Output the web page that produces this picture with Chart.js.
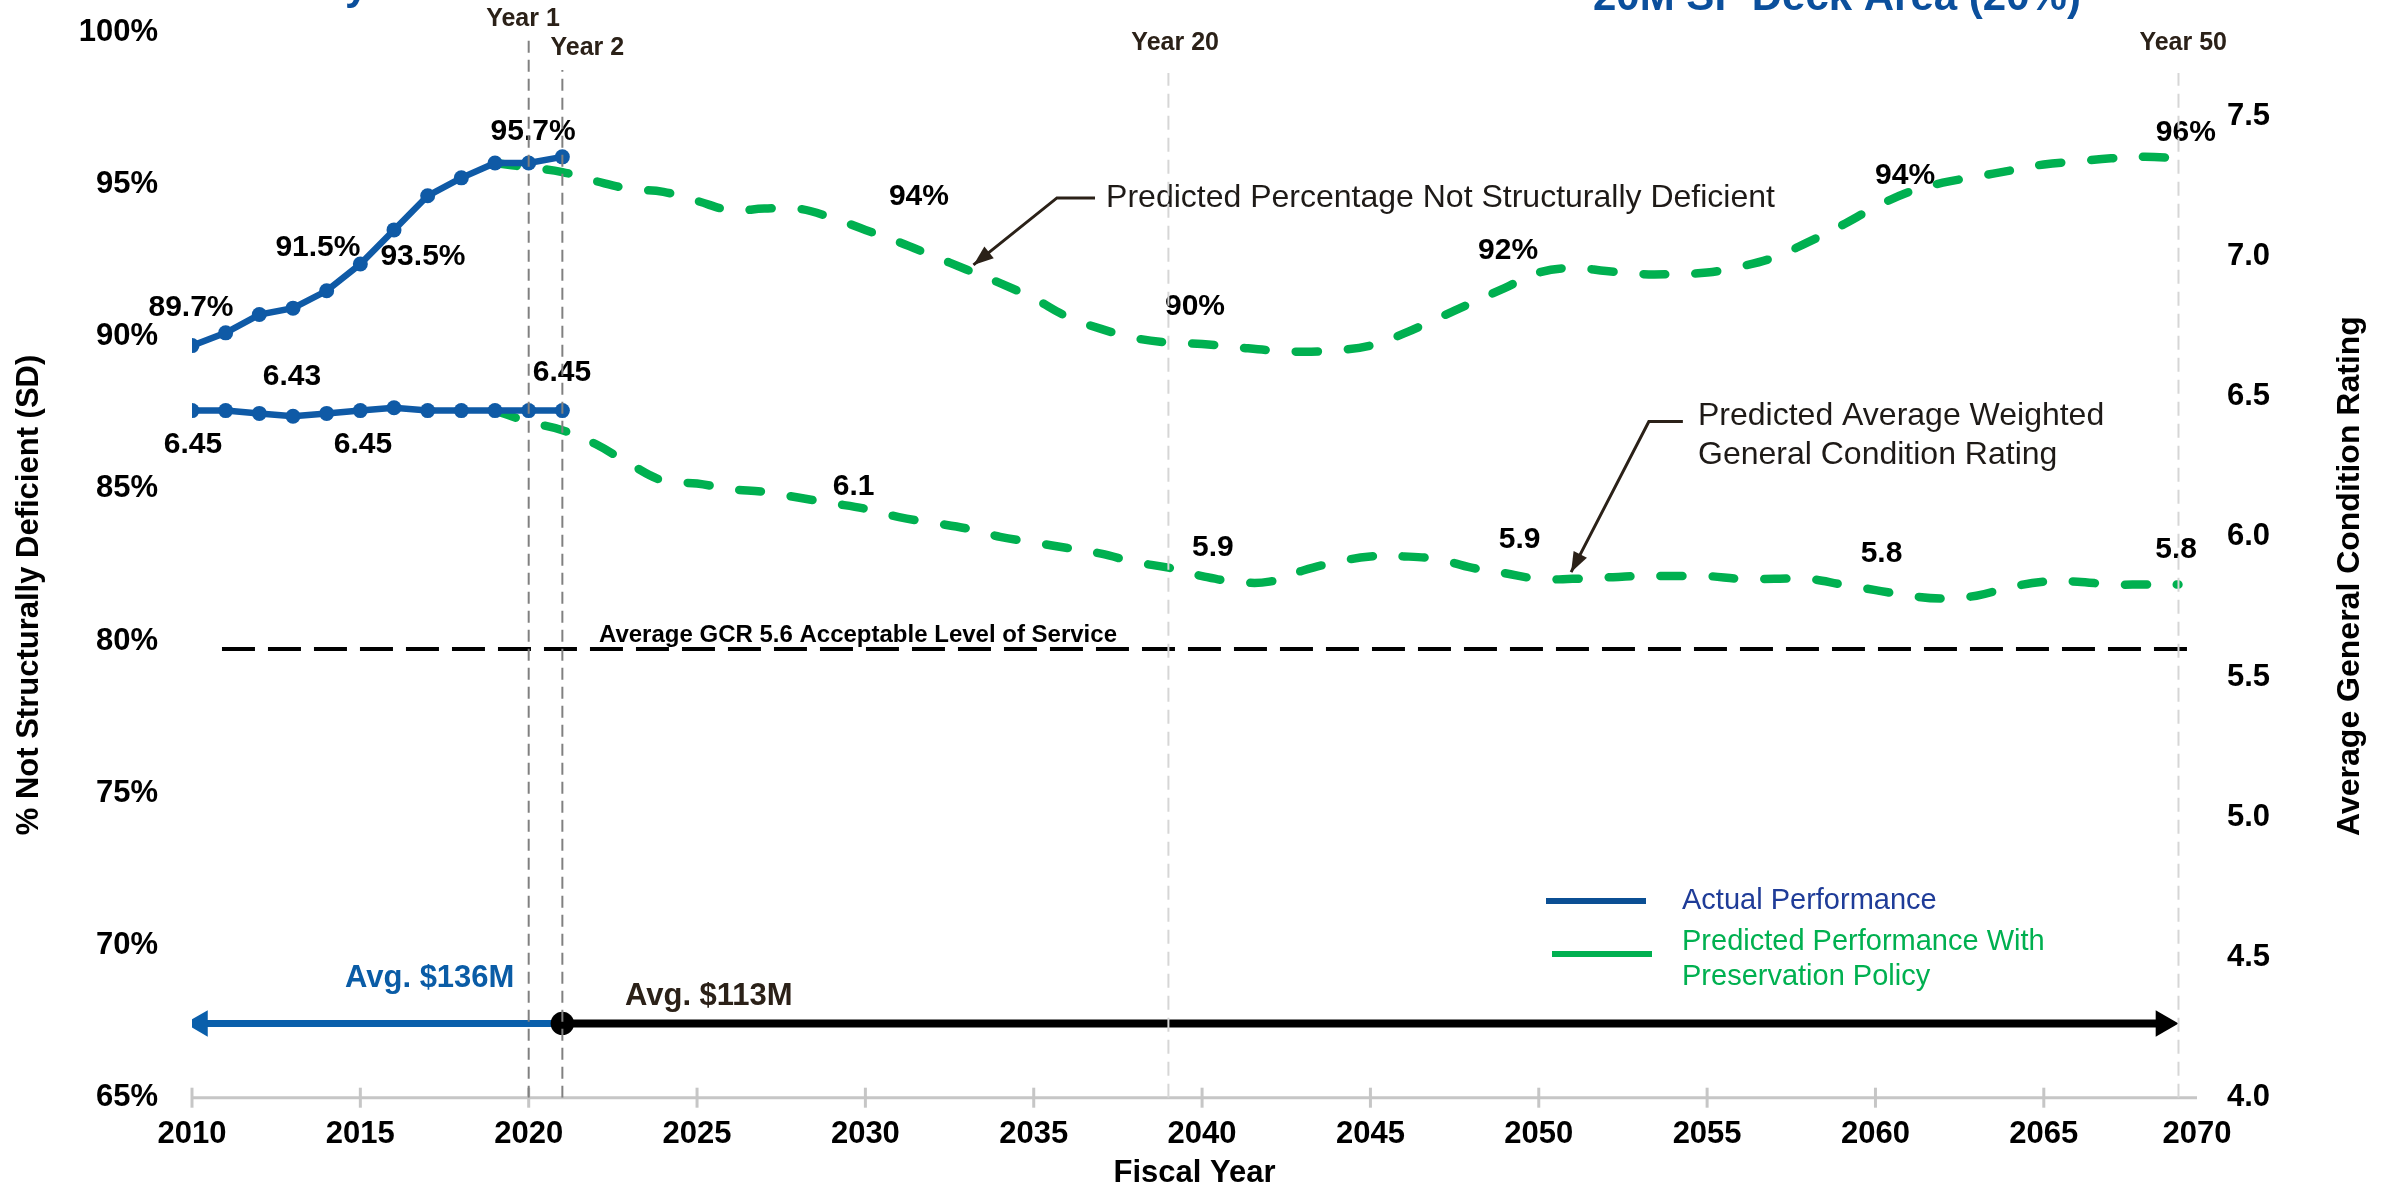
<!DOCTYPE html>
<html>
<head>
<meta charset="utf-8">
<script src="https://cdn.jsdelivr.net/npm/chart.js@4.4.1/dist/chart.umd.min.js"></script>
<style>
  html, body { margin: 0; padding: 0; background: #fff; }
  #wrap { width: 2392px; height: 1192px; position: relative; }
</style>
</head>
<body>
<div id="wrap"><canvas id="chart"></canvas></div>
<script>
const FONT = "'Liberation Sans', Arial, Helvetica, sans-serif";

// Actual performance (fiscal years 2010-2021)
const actualYears = [2010, 2011, 2012, 2013, 2014, 2015, 2016, 2017, 2018, 2019, 2020, 2021];
const actualPct = [89.7, 90.12, 90.72, 90.93, 91.5, 92.38, 93.5, 94.62, 95.21, 95.7, 95.7, 95.9];
const actualGcr = [6.45, 6.45, 6.44, 6.43, 6.44, 6.45, 6.46, 6.45, 6.45, 6.45, 6.45, 6.45];

// Predicted performance with preservation policy (2019-2069)
const predYears = [2019, 2020, 2021, 2022, 2023, 2024, 2025, 2026, 2027, 2028,
  2029, 2030, 2031, 2032, 2033, 2034, 2035, 2036, 2037, 2038,
  2039, 2040, 2041, 2042, 2043, 2044, 2045, 2046, 2047, 2048,
  2049, 2050, 2051, 2052, 2053, 2054, 2055, 2056, 2057, 2058,
  2059, 2060, 2061, 2062, 2063, 2064, 2065, 2066, 2067, 2068, 2069];
const predPct = [95.7, 95.55, 95.4, 95.1, 94.85, 94.75, 94.45, 94.15, 94.2, 94.2,
  93.9, 93.5, 93.1, 92.65, 92.2, 91.75, 91.25, 90.65, 90.25, 89.95,
  89.8, 89.75, 89.65, 89.55, 89.5, 89.55, 89.7, 90.1, 90.6, 91.1,
  91.6, 92.1, 92.25, 92.15, 92.05, 92.05, 92.1, 92.3, 92.6, 93.1,
  93.65, 94.25, 94.75, 95.05, 95.25, 95.45, 95.65, 95.75, 95.85, 95.9, 95.85];
const predGcr = [6.45, 6.41, 6.38, 6.33, 6.26, 6.2, 6.19, 6.17, 6.16, 6.14,
  6.12, 6.1, 6.07, 6.05, 6.03, 6.0, 5.98, 5.96, 5.94, 5.91,
  5.89, 5.86, 5.84, 5.84, 5.88, 5.91, 5.93, 5.93, 5.92, 5.89,
  5.87, 5.85, 5.85, 5.855, 5.86, 5.86, 5.86, 5.85, 5.85, 5.85,
  5.83, 5.81, 5.79, 5.78, 5.79, 5.82, 5.84, 5.84, 5.83, 5.83, 5.83];

// Axes
const xTicks = [2010, 2015, 2020, 2025, 2030, 2035, 2040, 2045, 2050, 2055, 2060, 2065];
const xEnd = 2069.55;
const pctTicks = [65, 70, 75, 80, 85, 90, 95, 100];
const gcrTicks = [4.0, 4.5, 5.0, 5.5, 6.0, 6.5, 7.0, 7.5];

// Reference level and milestones
const acceptableGcr = 5.6;
const milestoneYears = [2020, 2021, 2039, 2069];
const milestoneNames = ['Year 1', 'Year 2', 'Year 20', 'Year 50'];

// Funding averages
const pastFunding = 'Avg. $136M';
const futureFunding = 'Avg. $113M';

// Where the value labels sit (year, axis value)
const pctLabels = [
  [2009.97, 90.94, '89.7%'], [2013.74, 92.91, '91.5%'], [2016.86, 92.61, '93.5%'],
  [2020.13, 96.73, '95.7%'], [2031.59, 94.58, '94%'], [2039.79, 90.98, '90%'],
  [2049.09, 92.82, '92%'], [2060.88, 95.27, '94%'], [2069.22, 96.69, '96%']
];
const gcrLabels = [
  [2012.97, 6.57, '6.43'], [2010.03, 6.33, '6.45'], [2015.08, 6.33, '6.45'],
  [2020.99, 6.585, '6.45'], [2029.65, 6.18, '6.1'], [2040.32, 5.96, '5.9'],
  [2049.43, 5.99, '5.9'], [2060.18, 5.94, '5.8'], [2068.93, 5.955, '5.8']
];
const milestoneNameAt = [[2019.83, 100.43], [2021.74, 99.47], [2039.2, 99.64], [2069.14, 99.64]];
const milestoneTop = [99.9, 98.75, 98.65, 98.65];

const BLUE = '#0f5aa6';
const GREEN = '#00b050';
const DARK = '#2b2118';

function pts(xs, ys) { return xs.map((v, i) => ({ x: v, y: ys[i] })); }

function text(ctx, s, x, y, size, color, weight, align) {
  ctx.font = (weight || 'bold') + ' ' + size + 'px ' + FONT;
  ctx.fillStyle = color;
  ctx.textAlign = align || 'center';
  ctx.textBaseline = 'middle';
  ctx.fillText(s, x, y);
}

function arrowHead(ctx, fx, fy, tx, ty, len, w, color) {
  const a = Math.atan2(ty - fy, tx - fx);
  ctx.fillStyle = color;
  ctx.beginPath();
  ctx.moveTo(tx, ty);
  ctx.lineTo(tx - len * Math.cos(a) + w / 2 * Math.sin(a), ty - len * Math.sin(a) - w / 2 * Math.cos(a));
  ctx.lineTo(tx - len * Math.cos(a) - w / 2 * Math.sin(a), ty - len * Math.sin(a) + w / 2 * Math.cos(a));
  ctx.closePath();
  ctx.fill();
}

const decor = {
  id: 'decor',
  beforeDatasetsDraw(chart) {
    const { ctx, chartArea: a, scales: { x, y, y2 } } = chart;
    ctx.save();
    // x axis line with crossing ticks
    ctx.strokeStyle = '#c6c6c6';
    ctx.lineWidth = 3;
    ctx.beginPath(); ctx.moveTo(a.left, a.bottom); ctx.lineTo(a.right, a.bottom); ctx.stroke();
    xTicks.forEach(v => {
      const px = x.getPixelForValue(v);
      ctx.beginPath(); ctx.moveTo(px, a.bottom - 10); ctx.lineTo(px, a.bottom + 10); ctx.stroke();
    });

    // value labels
    pctLabels.forEach(l => text(ctx, l[2], x.getPixelForValue(l[0]), y.getPixelForValue(l[1]), 30, '#000'));
    gcrLabels.forEach(l => text(ctx, l[2], x.getPixelForValue(l[0]), y2.getPixelForValue(l[1]), 30, '#000'));

    // milestone names
    milestoneNames.forEach((n, i) => text(ctx, n, x.getPixelForValue(milestoneNameAt[i][0]),
      y.getPixelForValue(milestoneNameAt[i][1]), 25, DARK));

    // acceptable level caption
    text(ctx, 'Average GCR 5.6 Acceptable Level of Service', x.getPixelForValue(2029.78), y2.getPixelForValue(5.65), 24, '#000');

    // funding captions
    text(ctx, pastFunding, x.getPixelForValue(2017.06), y.getPixelForValue(68.93), 31, '#0a5ca6');
    text(ctx, futureFunding, x.getPixelForValue(2025.35), y.getPixelForValue(68.32), 31, DARK);

    // callout 1
    ctx.strokeStyle = DARK;
    ctx.lineWidth = 3;
    let hx0 = x.getPixelForValue(2035.69), hx1 = x.getPixelForValue(2036.82), hy = y.getPixelForValue(94.55);
    let tx = x.getPixelForValue(2033.21), ty = y.getPixelForValue(92.35);
    ctx.beginPath(); ctx.moveTo(hx1, hy); ctx.lineTo(hx0, hy); ctx.lineTo(tx, ty); ctx.stroke();
    arrowHead(ctx, hx0, hy, tx, ty, 20, 15, DARK);
    text(ctx, 'Predicted Percentage Not Structurally Deficient', x.getPixelForValue(2037.15), hy, 32, '#1e1a17', 'normal', 'left');

    // callout 2
    hx0 = x.getPixelForValue(2053.27); hx1 = x.getPixelForValue(2054.28); hy = y2.getPixelForValue(6.411);
    tx = x.getPixelForValue(2050.96); ty = y2.getPixelForValue(5.874);
    ctx.beginPath(); ctx.moveTo(hx1, hy); ctx.lineTo(hx0, hy); ctx.lineTo(tx, ty); ctx.stroke();
    arrowHead(ctx, hx0, hy, tx, ty, 20, 15, DARK);
    const cx = x.getPixelForValue(2054.73);
    text(ctx, 'Predicted Average Weighted', cx, y2.getPixelForValue(6.431), 32, '#1e1a17', 'normal', 'left');
    text(ctx, 'General Condition Rating', cx, y2.getPixelForValue(6.292), 32, '#1e1a17', 'normal', 'left');
    ctx.restore();
  },
  afterDraw(chart) {
    const { ctx } = chart;
    ctx.save();
    // legend
    ctx.lineWidth = 6;
    ctx.strokeStyle = '#0b4f94';
    ctx.beginPath(); ctx.moveTo(1546, 901); ctx.lineTo(1646, 901); ctx.stroke();
    ctx.strokeStyle = GREEN;
    ctx.beginPath(); ctx.moveTo(1552, 954); ctx.lineTo(1652, 954); ctx.stroke();
    text(ctx, 'Actual Performance', 1682, 901, 29, '#1f3c98', 'normal', 'left');
    text(ctx, 'Predicted Performance With', 1682, 942, 29, GREEN, 'normal', 'left');
    text(ctx, 'Preservation Policy', 1682, 977, 29, GREEN, 'normal', 'left');

    // axis titles
    ctx.translate(29, 595); ctx.rotate(-Math.PI / 2);
    text(ctx, '% Not Structurally Deficient (SD)', 0, 0, 31, '#000');
    ctx.setTransform(1, 0, 0, 1, 0, 0);
    ctx.translate(2350, 576); ctx.rotate(-Math.PI / 2);
    text(ctx, 'Average General Condition Rating', 0, 0, 32, '#000');
    ctx.setTransform(1, 0, 0, 1, 0, 0);

    // slide title cut off at the top edge
    ctx.font = 'bold 42px ' + FONT;
    ctx.fillStyle = '#0b4f9c';
    ctx.textAlign = 'left';
    ctx.textBaseline = 'alphabetic';
    ctx.fillText('20M SF Deck Area (20%)', 1593, 10);
    ctx.fillText('y', 345, -1);
    ctx.restore();
  }
};

const milestoneSets = milestoneYears.map((yr, i) => ({
  data: [{ x: yr, y: 65 }, { x: yr, y: milestoneTop[i] }],
  yAxisID: 'y',
  borderColor: i < 2 ? '#808080' : '#d6d6d6',
  borderWidth: 2,
  borderDash: i < 2 ? [12, 7] : [14, 8],
  pointRadius: 0,
  order: 0
}));

const greenStyle = {
  borderColor: GREEN, borderWidth: 8.5, borderDash: [22, 30], borderCapStyle: 'round',
  pointRadius: 0, tension: 0.4, order: 5
};
const blueStyle = {
  borderColor: BLUE, backgroundColor: BLUE, borderWidth: 6.5,
  pointRadius: 7.5, pointBackgroundColor: BLUE, pointBorderWidth: 0, tension: 0, order: 1
};

// keep the plot box fixed: no label overflow padding on the value axes
function fixVertical(width) {
  return s => { s.width = width; s.paddingTop = 0; s.paddingBottom = 0; };
}

new Chart(document.getElementById('chart'), {
  type: 'line',
  data: {
    datasets: [
      Object.assign({ data: pts(actualYears, actualPct), yAxisID: 'y' }, blueStyle),
      Object.assign({ data: pts(actualYears, actualGcr), yAxisID: 'y2' }, blueStyle),
      Object.assign({ data: pts(predYears, predPct), yAxisID: 'y' }, greenStyle),
      Object.assign({ data: pts(predYears, predGcr), yAxisID: 'y2' }, greenStyle),
      {
        data: [{ x: 2010.89, y: acceptableGcr }, { x: xEnd, y: acceptableGcr }], yAxisID: 'y2',
        borderColor: '#000', borderWidth: 4, borderDash: [33, 13], pointRadius: 0, order: 9
      },
      {
        data: [{ x: 2010.24, y: 67.44 }, { x: 2021, y: 67.44 }], yAxisID: 'y',
        borderColor: '#0a5fab', borderWidth: 7,
        pointStyle: ['triangle', 'circle'], pointRadius: [15.3, 0], pointRotation: [-90, 0],
        pointBackgroundColor: '#0a5fab', pointBorderWidth: 0, order: 8
      },
      {
        data: [{ x: 2021, y: 67.44 }, { x: 2068.55, y: 67.44 }], yAxisID: 'y',
        borderColor: '#000', borderWidth: 8,
        pointStyle: ['circle', 'triangle'], pointRadius: [11.7, 15.3], pointRotation: [0, 90],
        pointBackgroundColor: '#000', pointBorderWidth: 0, order: 7
      },
      ...milestoneSets
    ]
  },
  options: {
    responsive: true,
    maintainAspectRatio: false,
    animation: false,
    events: [],
    layout: { autoPadding: false, padding: { top: 32 } },
    plugins: { legend: { display: false }, tooltip: { enabled: false } },
    scales: {
      x: {
        type: 'linear', min: 2010, max: xEnd,
        afterBuildTicks: s => { s.ticks = xTicks.concat([xEnd]).map(v => ({ value: v })); },
        afterFit: s => { s.height = 94.3; s.paddingLeft = 0; s.paddingRight = 0; },
        grid: { display: false, drawTicks: false },
        border: { display: false },
        ticks: {
          autoSkip: false, maxRotation: 0, padding: 18, color: '#000',
          font: { family: FONT, size: 31, weight: 'bold' },
          callback: v => (v > 2066 ? '2070' : String(v))
        },
        title: {
          display: true, text: 'Fiscal Year', color: '#000', padding: 0,
          font: { family: FONT, size: 31, weight: 'bold' }
        }
      },
      y: {
        position: 'left', min: 65, max: 100,
        afterBuildTicks: s => { s.ticks = pctTicks.map(v => ({ value: v })); },
        afterFit: fixVertical(192),
        grid: { display: false, drawTicks: false },
        border: { display: false },
        ticks: {
          padding: 34, color: '#000',
          font: { family: FONT, size: 31, weight: 'bold' },
          callback: v => v + '%'
        }
      },
      y2: {
        position: 'right', min: 4.0, max: 7.8,
        afterBuildTicks: s => { s.ticks = gcrTicks.map(v => ({ value: v })); },
        afterFit: fixVertical(195),
        grid: { display: false, drawTicks: false },
        border: { display: false },
        ticks: {
          padding: 30, color: '#000',
          font: { family: FONT, size: 31, weight: 'bold' },
          callback: v => v.toFixed(1)
        }
      }
    }
  },
  plugins: [decor]
});
</script>
</body>
</html>
